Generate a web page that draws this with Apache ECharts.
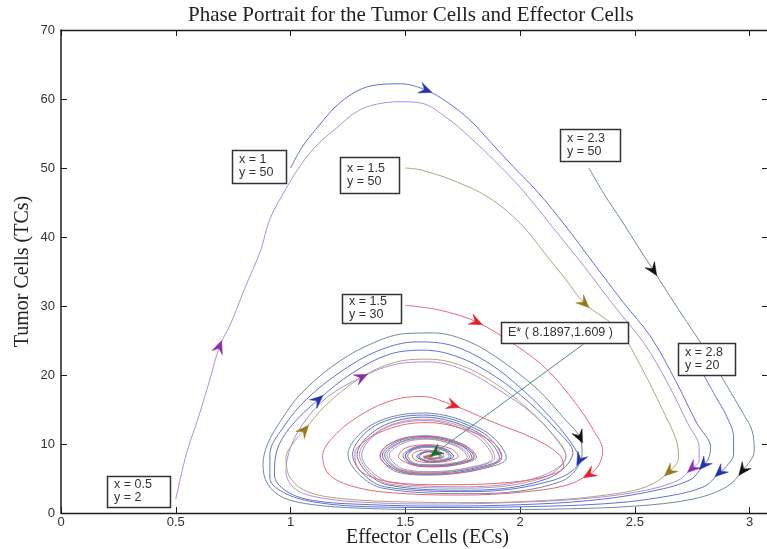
<!DOCTYPE html>
<html><head><meta charset="utf-8">
<script src="https://cdn.jsdelivr.net/npm/echarts@6/dist/echarts.min.js"></script>
<style>html,body{margin:0;padding:0;background:#fff}#c{width:767px;height:549px}</style>
</head><body><div id="c"></div>
<script>
// ---------- data ----------
const xTicks = [0, 0.5, 1, 1.5, 2, 2.5, 3];
const yTicks = [0, 10, 20, 30, 40, 50, 60, 70];
const equilibrium = [1.609, 8.19];

// trajectory starting at x = 0.5, y = 2 (purple)
const t1Outer = [[0.50,2.0],[0.52,5],[0.55,9],[0.60,14],[0.65,19.5],[0.69,24.1],[0.74,27.5],[0.80,32.5],[0.87,38.1],[0.91,42.6],[0.98,47],[1.05,50.7],[1.12,53.5],[1.19,55.5],[1.30,58.4],[1.42,59.5],[1.48,59.6],[1.57,59.4],[1.68,57.3],[1.78,54.5],[1.89,51],[2.00,47.2],[2.14,41.5],[2.28,35.7],[2.41,30],[2.54,24.6],[2.64,19],[2.73,13],[2.78,9.5],[2.78,7.6],[2.75,6.5],[2.68,4.6],[2.50,3.0],[2.25,2.0],[1.95,1.5],[1.65,1.3],[1.35,1.5],[1.13,2.2],[1.02,3.5],[0.98,6],[1.00,9.5],[1.06,13.2],[1.16,16.8],[1.31,19.7],[1.45,21.5],[1.60,21.9],[1.75,20.8],[1.90,18],[2.05,14.5],[2.15,11],[2.20,8.2]];
const t1Inner = [[2.08,5.2],[1.77,3.8],[1.44,4.4],[1.31,8.4],[1.40,12.1],[1.59,13.4],[1.80,11.3],[1.88,8.0],[1.78,6.6],[1.61,6.0],[1.49,6.4],[1.43,8.4],[1.49,10.1],[1.59,10.7],[1.72,9.7],[1.77,8.1],[1.72,7.3],[1.61,7.0],[1.54,7.2],[1.51,8.3],[1.54,9.2],[1.60,9.5],[1.67,9.0],[1.69,8.2],[1.66,7.7],[1.61,7.5],[1.56,8.2],[1.60,8.9],[1.65,8.2],[1.61,7.9],[1.59,8.2],[1.61,8.2]];

// trajectory starting at x = 1, y = 50 (blue)
const t2Outer = [[1.00,50],[1.05,53],[1.11,55.6],[1.22,59.6],[1.35,61.9],[1.48,62.2],[1.59,61.3],[1.68,59.6],[1.78,57],[1.87,53.8],[1.97,50.2],[2.08,46.4],[2.20,41.5],[2.32,36.2],[2.45,30.5],[2.57,25.5],[2.68,19],[2.77,13],[2.83,9.5],[2.82,7.8],[2.80,7.0],[2.74,4.8],[2.55,3.0],[2.30,1.8],[2.00,1.2],[1.65,1.0],[1.35,1.2],[1.10,1.8],[0.98,3.2],[0.93,5.5],[0.94,9],[1.00,12.5],[1.12,16.4],[1.27,20.3],[1.43,23],[1.58,23.6],[1.74,22.5],[1.90,19.6],[2.04,16],[2.16,12],[2.23,8.8]];
const t2Inner = [[2.12,5.0],[1.78,3.3],[1.42,4.1],[1.29,8.5],[1.39,12.4],[1.58,13.9],[1.82,11.6],[1.91,8.0],[1.80,6.5],[1.61,5.8],[1.48,6.2],[1.41,8.4],[1.48,10.3],[1.59,10.9],[1.74,9.8],[1.79,8.1],[1.73,7.2],[1.61,6.9],[1.54,7.1],[1.50,8.3],[1.54,9.3],[1.60,9.6],[1.67,9.1],[1.70,8.2],[1.66,7.7],[1.61,7.5],[1.56,8.2],[1.60,8.9],[1.65,8.2],[1.61,7.8],[1.58,8.2],[1.61,8.2]];

// trajectory starting at x = 1.5, y = 50 (olive)
const t3Outer = [[1.50,50],[1.57,49.7],[1.70,48.3],[1.86,45.8],[2.00,42],[2.12,37.1],[2.20,33.8],[2.28,30.4],[2.43,26.5],[2.53,21],[2.62,15],[2.68,10.6],[2.69,8],[2.65,6.0],[2.55,3.8],[2.35,2.5],[2.10,1.8],[1.80,1.5],[1.50,1.6],[1.25,2.0],[1.08,3.0],[1.00,5.0],[0.98,8],[1.02,10.5],[1.06,12],[1.15,15.5],[1.30,19.5],[1.45,21.8],[1.60,22.3],[1.75,21.3],[1.90,18.6],[2.03,15.2],[2.14,11.5],[2.20,8.3]];
const t3Inner = [[2.10,5.1],[1.77,3.6],[1.43,4.2],[1.30,8.5],[1.40,12.2],[1.58,13.6],[1.81,11.5],[1.89,8.0],[1.79,6.6],[1.61,5.9],[1.48,6.3],[1.42,8.4],[1.48,10.2],[1.59,10.8],[1.73,9.7],[1.78,8.1],[1.72,7.3],[1.61,6.9],[1.54,7.2],[1.51,8.3],[1.54,9.2],[1.60,9.6],[1.67,9.1],[1.70,8.2],[1.66,7.7],[1.61,7.5],[1.56,8.2],[1.60,8.9],[1.65,8.2],[1.61,7.9],[1.59,8.2],[1.61,8.2]];

// trajectory starting at x = 2.3, y = 50 (grey, black arrows)
const t4Outer = [[2.30,50],[2.37,46],[2.44,42.5],[2.51,38.8],[2.58,35.2],[2.70,29],[2.80,24],[2.90,18.5],[2.97,14.5],[3.01,12],[3.02,9],[2.97,6.2],[2.90,3.8],[2.75,2.0],[2.50,1.0],[2.20,0.6],[1.90,0.5],[1.60,0.5],[1.30,0.7],[1.10,1.2],[0.97,2.2],[0.90,4.2],[0.88,7],[0.90,10],[0.96,13.5],[1.04,17.1],[1.18,21.2],[1.33,24.2],[1.50,26.0],[1.62,26.1],[1.78,24.8],[1.93,21.8],[2.08,17.8],[2.20,13.4],[2.26,11.0],[2.27,8.5]];
const t4Inner = [[2.18,4.6],[1.80,2.8],[1.40,3.6],[1.25,8.5],[1.36,12.9],[1.58,14.5],[1.84,12.0],[1.94,8.0],[1.82,6.3],[1.61,5.5],[1.46,6.0],[1.39,8.4],[1.46,10.5],[1.59,11.2],[1.75,10.0],[1.81,8.1],[1.74,7.1],[1.61,6.7],[1.53,7.0],[1.49,8.3],[1.53,9.4],[1.60,9.8],[1.68,9.2],[1.71,8.2],[1.67,7.6],[1.61,7.4],[1.55,8.2],[1.60,9.0],[1.66,8.2],[1.61,7.8],[1.58,8.2],[1.61,8.2]];

// trajectory starting at x = 2.8, y = 20 (blue)
const t5Outer = [[2.80,20],[2.85,17],[2.90,14],[2.93,11],[2.93,8.5],[2.90,6.8],[2.87,5.9],[2.80,3.8],[2.60,2.2],[2.35,1.3],[2.00,0.9],[1.65,0.8],[1.35,0.9],[1.12,1.5],[0.98,2.8],[0.91,5],[0.91,8.5],[0.97,12.5],[1.07,16.5],[1.22,20.5],[1.38,23.5],[1.55,24.8],[1.70,24.3],[1.86,21.8],[2.02,17.6],[2.15,13.2],[2.23,9.8],[2.26,7.7]];
const t5Inner = [[2.15,4.8],[1.79,3.1],[1.41,3.8],[1.27,8.5],[1.37,12.7],[1.58,14.2],[1.83,11.8],[1.92,8.0],[1.81,6.4],[1.61,5.6],[1.47,6.1],[1.40,8.4],[1.47,10.4],[1.59,11.1],[1.74,9.9],[1.80,8.1],[1.73,7.2],[1.61,6.8],[1.53,7.1],[1.50,8.3],[1.53,9.3],[1.60,9.7],[1.68,9.1],[1.71,8.2],[1.67,7.6],[1.61,7.4],[1.55,8.2],[1.60,8.9],[1.66,8.2],[1.61,7.8],[1.58,8.2],[1.61,8.2]];

// trajectory starting at x = 1.5, y = 30 (red)
const t6Path = [[1.50,30.1],[1.65,29.4],[1.81,27.7],[1.99,24.1],[2.12,20.7],[2.24,16],[2.32,12],[2.36,9],[2.34,6.8],[2.30,5.6],[2.20,4.0],[2.00,3.0],[1.75,2.6],[1.50,2.8],[1.30,3.6],[1.17,5.5],[1.14,8.3],[1.20,11.5],[1.32,14.5],[1.45,16.4],[1.57,16.9],[1.71,15.6],[1.88,13.2],[2.06,10.8],[2.17,8.5],[2.19,6.8],[2.10,5.2],[1.90,4.3],[1.65,4.1],[1.42,4.6],[1.30,6.2],[1.28,8.5],[1.35,11],[1.48,12.7],[1.60,13.1],[1.75,12.2],[1.88,10.3],[1.92,8.3],[1.86,6.7],[1.72,5.8],[1.58,5.7],[1.45,6.4],[1.39,8.2],[1.43,10],[1.55,11],[1.66,10.8],[1.76,9.7],[1.80,8.3],[1.75,7.2],[1.64,6.7],[1.53,7.0],[1.47,8.2],[1.50,9.4],[1.60,9.9],[1.70,9.3],[1.73,8.2],[1.68,7.5],[1.60,7.3],[1.54,7.7],[1.53,8.4],[1.58,9.1],[1.65,8.9],[1.67,8.2],[1.62,7.8],[1.58,8.0],[1.60,8.4],[1.61,8.2]];

// arrowheads: [trajectory, x, y]
const arrowSpots = [
  ['t1',0.69,24.1],['t1',2.75,6.5],['t1',1.31,19.7],
  ['t2',1.59,61.3],['t2',2.80,7.0],['t2',1.12,16.4],
  ['t3',2.28,30.4],['t3',2.65,6.0],['t3',1.06,12],
  ['t4',2.58,35.2],['t4',2.97,6.2],['t4',2.26,11.0],
  ['t5',2.87,5.9],['t5',2.26,7.7],
  ['t6',1.81,27.7],['t6',2.30,5.6],['t6',1.71,15.6]
];

// text boxes
const boxTexts = ['x = 0.5\ny = 2','x = 1\ny = 50','x = 1.5\ny = 50','x = 2.3\ny = 50','x = 1.5\ny = 30','x = 2.8\ny = 20','E* ( 8.1897,1.609 )'];
const boxAnchors = [[0.200,5.36],[0.746,52.6],[1.217,51.6],[2.172,55.65],[1.225,31.74],[2.686,24.64],[1.915,27.68]];
const pointerStart = [2.277,24.5];

// ---------- styles ----------
const boxSizes = [[63,31],[54,33],[59,36],[60,32],[59,29],[57,32],[127,21]];
const trajStyle = {
  t1:{line:'#b38ce2', arrow:'#8c2fa6'},
  t2:{line:'#6270d8', arrow:'#2433ad'},
  t3:{line:'#b2a57c', arrow:'#98781c'},
  t4:{line:'#6f8c9c', arrow:'#111111'},
  t5:{line:'#6272d6', arrow:'#2433ad'},
  t6:{line:'#e8687a', arrow:'#e6202a'}
};
const traj = {
  t1: t1Outer.concat(t1Inner),
  t2: t2Outer.concat(t2Inner),
  t3: t3Outer.concat(t3Inner),
  t4: t4Outer.concat(t4Inner),
  t5: t5Outer.concat(t5Inner),
  t6: t6Path
};

function nearestDir(path, x, y) {
  let best = 0, bd = Infinity;
  for (let i = 0; i < path.length; i++) {
    const dx = (path[i][0] - x) / 3, dy = (path[i][1] - y) / 70;
    const d = dx*dx + dy*dy;
    if (d < bd) { bd = d; best = i; }
  }
  const p = path[Math.max(best-1,0)], n = path[Math.min(best+1,path.length-1)];
  return [p[0], p[1], n[0], n[1]];
}

const arrowData = arrowSpots.map(a => {
  const d = nearestDir(traj[a[0]], a[1], a[2]);
  return {value:[a[1], a[2], d[0], d[1], d[2], d[3], 0], itemStyle:{color: trajStyle[a[0]].arrow}};
});
arrowData.push({value:[equilibrium[0], equilibrium[1], pointerStart[0], pointerStart[1], equilibrium[0], equilibrium[1], 1], itemStyle:{color:'#1f6b2e'}});

function renderArrow(params, api) {
  const p = api.coord([api.value(0), api.value(1)]);
  const a = api.coord([api.value(2), api.value(3)]);
  const b = api.coord([api.value(4), api.value(5)]);
  let dx = b[0]-a[0], dy = b[1]-a[1];
  const len = Math.hypot(dx, dy) || 1; dx /= len; dy /= len;
  const L = 13, W = 5.6;
  const tipShift = api.value(6) ? 0 : L*0.5;
  const tip = [p[0]+dx*tipShift, p[1]+dy*tipShift];
  const back = [tip[0]-dx*L, tip[1]-dy*L];
  const notch = [tip[0]-dx*L*0.62, tip[1]-dy*L*0.62];
  const px = -dy, py = dx;
  return {type:'polygon', shape:{points:[tip,[back[0]+px*W,back[1]+py*W],notch,[back[0]-px*W,back[1]-py*W]]},
    style:{fill: api.visual('color'), stroke: api.visual('color'), lineWidth:0.5}};
}

const lineSeries = Object.keys(traj).map(k => ({
  type:'line', name:k, data: traj[k], showSymbol:false, smooth:0.35,
  lineStyle:{color: trajStyle[k].line, width:1}, z:3, silent:true
}));

const chart = echarts.init(document.getElementById('c'), null, {renderer:'canvas'});
const axisColor = '#1c1c1c';
chart.setOption({
  animation:false,
  backgroundColor:'#ffffff',
  title:{text:'Phase Portrait for the Tumor Cells and Effector Cells', left:188, top:5, padding:0,
    textStyle:{fontFamily:'Liberation Serif', fontSize:21, fontWeight:'normal', color:'#222'}},
  grid:{left:61, top:30, right:-1, bottom:36, containLabel:false, outerBoundsMode:'none'},
  xAxis:[
    {type:'value', min:0, max:3.08, position:'bottom',
      axisLine:{show:true, onZero:false, lineStyle:{color:axisColor, width:1.3}},
      axisTick:{show:true, inside:true, length:6, customValues:xTicks, lineStyle:{color:axisColor}},
      axisLabel:{customValues:xTicks, fontFamily:'Liberation Sans', fontSize:13, color:'#333', margin:3},
      splitLine:{show:false},
      name:'Effector Cells (ECs)', nameLocation:'middle', nameGap:15, nameMoveOverlap:false,
      nameTextStyle:{fontFamily:'Liberation Serif', fontSize:20, color:'#222', padding:[0,0,0,26]}},
    {type:'value', min:0, max:3.08, position:'top',
      axisLine:{show:true, onZero:false, lineStyle:{color:axisColor, width:1.3}},
      axisTick:{show:true, inside:true, length:6, customValues:xTicks, lineStyle:{color:axisColor}},
      axisLabel:{show:false}, splitLine:{show:false}}
  ],
  yAxis:[
    {type:'value', min:0, max:70, interval:10, position:'left',
      axisLine:{show:true, onZero:false, lineStyle:{color:axisColor, width:1.5}},
      axisTick:{show:true, inside:true, length:6, lineStyle:{color:axisColor}},
      axisLabel:{fontFamily:'Liberation Sans', fontSize:13, color:'#333', margin:6},
      splitLine:{show:false},
      name:'Tumor Cells (TCs)', nameLocation:'middle', nameGap:28, nameMoveOverlap:false,
      nameTextStyle:{fontFamily:'Liberation Serif', fontSize:20, color:'#222'}},
    {type:'value', min:0, max:70, interval:10, position:'right',
      axisLine:{show:true, onZero:false, lineStyle:{color:axisColor, width:1.3}},
      axisTick:{show:true, inside:true, length:6, lineStyle:{color:axisColor}},
      axisLabel:{show:false}, splitLine:{show:false}}
  ],
  series: lineSeries.concat([
    {type:'line', name:'pointer', data:[pointerStart, equilibrium], showSymbol:false,
      lineStyle:{color:'#5a8a8e', width:1}, z:4, silent:true},
    {type:'scatter', name:'E*', data:[equilibrium], symbolSize:5,
      itemStyle:{color:'#c8702a'}, z:5, silent:true},
    {type:'custom', name:'arrows', renderItem:renderArrow, data:arrowData, z:6, silent:true,
      encode:{x:0, y:1}}
  ])
});

const graphics = [];
boxAnchors.forEach((a, i) => {
  const p = chart.convertToPixel({xAxisIndex:0, yAxisIndex:0}, a);
  const s = boxSizes[i];
  const twoLines = boxTexts[i].indexOf('\n') >= 0;
  graphics.push({type:'rect', shape:{x:Math.round(p[0])+0.5, y:Math.round(p[1])+0.5, width:s[0], height:s[1]},
    style:{fill:'#ffffff', stroke:'#333333', lineWidth:1.5}, z:10});
  graphics.push({type:'text', x:Math.round(p[0])+7, y:Math.round(p[1]) + (s[1]-(twoLines?26:13))/2,
    style:{text:boxTexts[i], fontFamily:'Liberation Sans', fontSize:12.5, lineHeight:13, fill:'#333'}, z:11});
});
chart.setOption({graphic:graphics});
</script></body></html>
